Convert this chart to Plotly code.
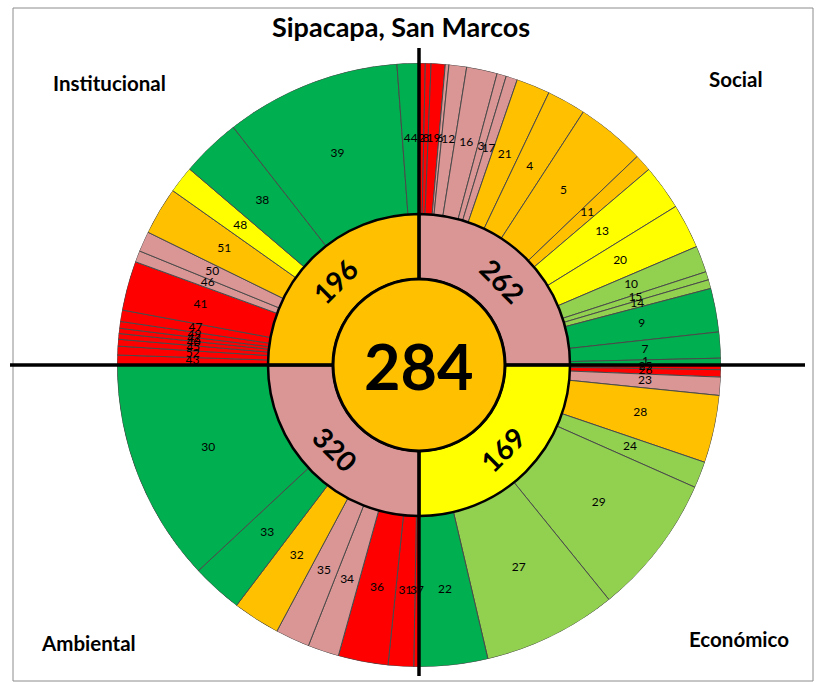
import math
import plotly.graph_objects as go

# ---------------- data ----------------
center_value = 284
quadrant_names = ["Social", "Económico", "Ambiental", "Institucional"]
quadrant_values = [262, 169, 320, 196]
quadrant_colors = ["P", "Y", "P", "O"]

social_labels = ["2", "8", "19", "6", "12", "16", "3", "17", "21", "4", "5", "11", "13", "20", "10", "15", "14", "9", "7", "1"]
social_sizes = [1.2, 1.1, 2.7, 0.7, 3.4, 5.9, 1.8, 2.2, 6.5, 7.5, 13.3, 3.3, 8.7, 8.6, 5.1, 1.6, 1.7, 8.4, 5.0, 1.3]
social_colors = ["R", "R", "R", "P", "P", "P", "P", "P", "O", "O", "O", "O", "Y", "Y", "LG", "LG", "LG", "G", "G", "G"]

economico_labels = ["25", "26", "23", "28", "24", "29", "27", "22"]
economico_sizes = [0.9, 1.4, 3.5, 13.0, 5.1, 27.1, 25.8, 13.2]
economico_colors = ["R", "R", "P", "O", "LG", "LG", "LG", "G"]

ambiental_labels = ["37", "31", "36", "34", "35", "32", "33", "30"]
ambiental_sizes = [1.0, 4.9, 9.6, 6.0, 6.6, 9.1, 9.8, 43.0]
ambiental_colors = ["R", "R", "R", "P", "P", "O", "G", "G"]

institucional_labels = ["43", "52", "45", "40", "42", "49", "47", "41", "46", "50", "51", "48", "38", "39", "44"]
institucional_sizes = [1.9, 1.7, 1.3, 1.1, 1.0, 1.3, 2.2, 9.5, 2.2, 3.9, 9.2, 5.2, 11.5, 33.8, 4.2]
institucional_colors = ["R", "R", "R", "R", "R", "R", "R", "R", "P", "P", "O", "Y", "G", "G", "G"]

palette = {"R": "#FF0000", "P": "#D99694", "O": "#FFC000", "Y": "#FFFF00",
           "LG": "#92D050", "G": "#00B050"}

# ---------------- geometry (pixels) ----------------
W, H = 818, 682
CX, CY = 419, 365
R_OUT = 302
R_MID = 151
R_IN = 86
FONT = "Lato"

# build outer ring
groups = [
    (social_labels, social_sizes, social_colors),
    (economico_labels, economico_sizes, economico_colors),
    (ambiental_labels, ambiental_sizes, ambiental_colors),
    (institucional_labels, institucional_sizes, institucional_colors),
]
o_theta, o_width, o_color, o_text = [], [], [], []
for qi, (labs, sizes, cols) in enumerate(groups):
    start = 90.0 * qi
    total = sum(sizes)
    acc = start
    for lab, s, c in zip(labs, sizes, cols):
        w = s * 90.0 / total
        o_theta.append(acc + w / 2)
        o_width.append(w)
        o_color.append(palette[c])
        o_text.append(lab)
        acc += w

fig = go.Figure()

fig.add_trace(go.Barpolar(
    theta=o_theta, width=o_width, r=[R_OUT - R_MID] * len(o_theta), base=[R_MID] * len(o_theta),
    marker=dict(color=o_color, line=dict(color="#4a4a4a", width=1)),
    hoverinfo="text", text=o_text, showlegend=False,
))

m_theta = [45 + 90 * i for i in range(4)]
fig.add_trace(go.Barpolar(
    theta=m_theta, width=[90] * 4, r=[R_MID - R_IN] * 4, base=[R_IN] * 4,
    marker=dict(color=[palette[c] for c in quadrant_colors], line=dict(color="black", width=2.5)),
    hoverinfo="text", text=[str(v) for v in quadrant_values], showlegend=False,
))

fig.add_trace(go.Scatterpolar(
    theta=o_theta, r=[(R_OUT + R_MID) / 2] * len(o_theta), mode="text", text=o_text,
    textfont=dict(family=FONT, size=12, color="black"), hoverinfo="skip", showlegend=False,
))

shapes = [
    dict(type="rect", xref="paper", yref="paper", x0=13 / W, x1=813 / W, y0=(H - 681) / H, y1=(H - 8) / H,
         line=dict(color="#8c8c8c", width=1), fillcolor="rgba(0,0,0,0)", layer="below"),
    dict(type="line", xref="paper", yref="paper", x0=CX / W, x1=CX / W, y0=(H - 676) / H, y1=(H - 48) / H,
         line=dict(color="black", width=3.5)),
    dict(type="line", xref="paper", yref="paper", x0=10 / W, x1=805 / W, y0=(H - CY) / H, y1=(H - CY) / H,
         line=dict(color="black", width=3.5)),
    dict(type="circle", xref="paper", yref="paper",
         x0=(CX - R_IN) / W, x1=(CX + R_IN) / W, y0=(H - CY - R_IN) / H, y1=(H - CY + R_IN) / H,
         fillcolor=palette["O"], line=dict(color="black", width=3)),
]

def ann(px, py, text, size, angle=0):
    return dict(x=px / W, y=(H - py) / H, xref="paper", yref="paper", text=text, textangle=angle,
                xanchor="center", yanchor="middle", showarrow=False,
                font=dict(family=FONT, size=size, color="black"))

annotations = [ann(CX, CY, f"<b>{center_value}</b>", 63)]
# middle ring values
for th, v in zip(m_theta, quadrant_values):
    t = math.radians(th)
    r = (R_MID + R_IN) / 2
    ang = th if th <= 90 else (th - 180 if th <= 270 else th - 360)
    annotations.append(ann(CX + r * math.sin(t), CY - r * math.cos(t), f"<b>{v}</b>", 28, ang))
# quadrant names
name_pos = {"Social": (736, 79), "Económico": (739, 639), "Ambiental": (88, 643), "Institucional": (109, 83)}
for n in quadrant_names:
    px, py = name_pos[n]
    annotations.append(ann(px, py, f"<b>{n}</b>", 20.5))
# title
annotations.append(ann(401, 27, "<b>Sipacapa, San Marcos</b>", 27))

fig.update_layout(
    width=W, height=H, margin=dict(l=0, r=0, t=0, b=0),
    paper_bgcolor="white", plot_bgcolor="white",
    polar=dict(
        domain=dict(x=[(CX - R_OUT) / W, (CX + R_OUT) / W], y=[(H - CY - R_OUT) / H, (H - CY + R_OUT) / H]),
        bgcolor="rgba(0,0,0,0)",
        radialaxis=dict(range=[0, R_OUT], visible=False),
        angularaxis=dict(rotation=90, direction="clockwise", visible=False),
    ),
    shapes=shapes, annotations=annotations, showlegend=False,
)

fig.write_html("out.html", config={"displayModeBar": False},
               post_script="document.body.style.margin='0';document.body.style.overflow='hidden';")
